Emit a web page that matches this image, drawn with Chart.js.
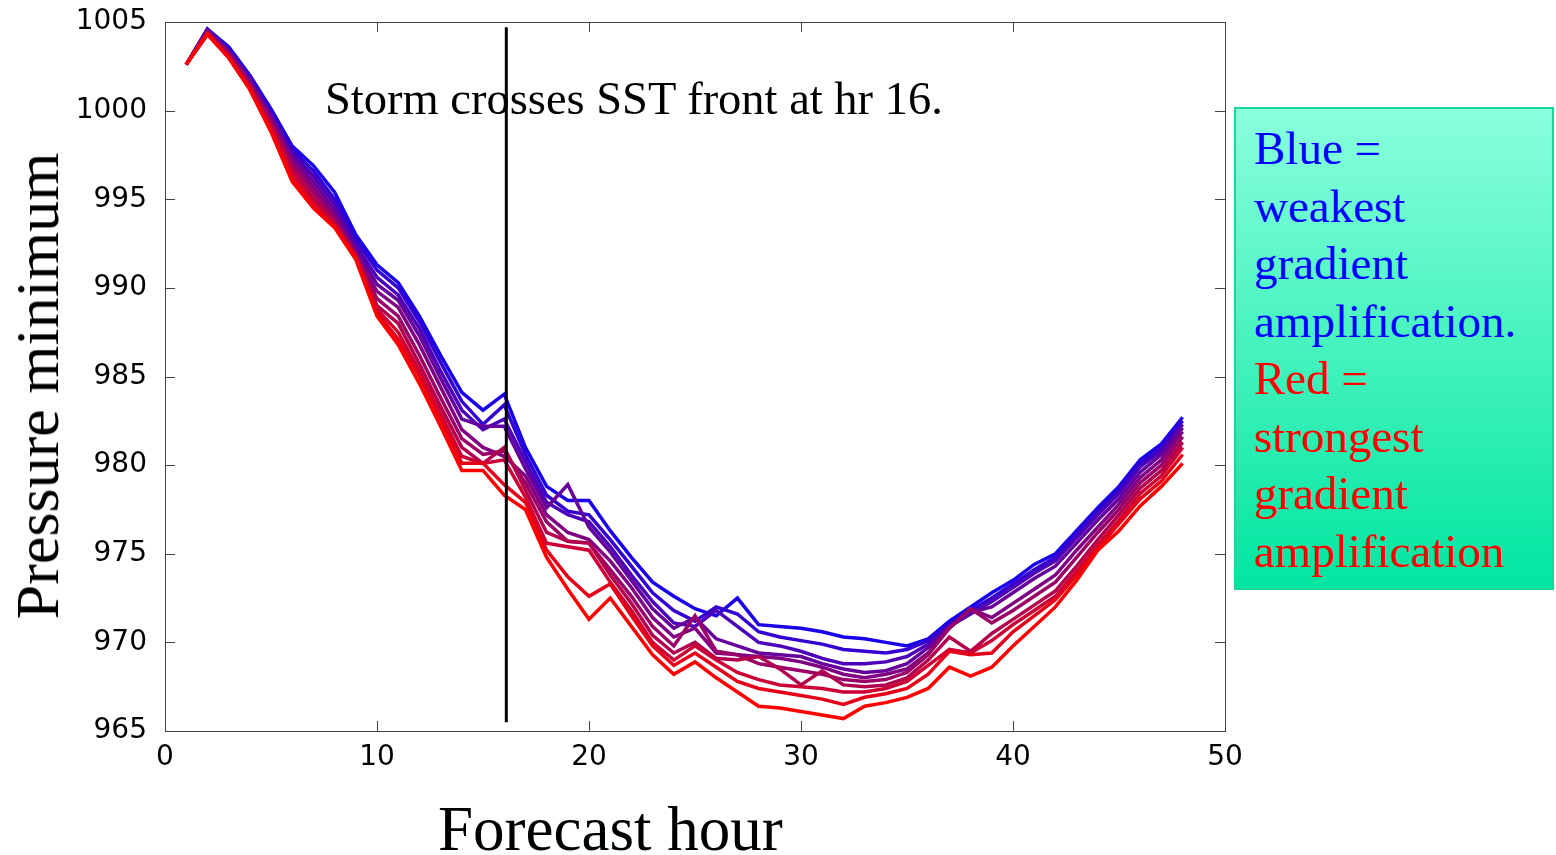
<!DOCTYPE html>
<html>
<head>
<meta charset="utf-8">
<script src="https://cdn.jsdelivr.net/npm/chart.js@4.4.0/dist/chart.umd.min.js"></script>
<style>
  body { margin: 0; background: #fff; }
  #wrap { position: relative; width: 1556px; height: 855px; overflow: hidden; }
  #chart { position: absolute; left: 0; top: 0; }
  .lbl { position: absolute; font-family: "Liberation Serif", "Times New Roman", serif; color: #000; white-space: nowrap; line-height: 1; }
  #ytitle { font-size: 62px; left: 37px; top: 386px; transform: translate(-50%, -50%) rotate(-90deg); }
  #xtitle { font-size: 63px; left: 438px; top: 798px; }
  #note { font-size: 46.5px; left: 325px; top: 76px; }
  #legendBox {
    position: absolute; left: 1234px; top: 107px; width: 320px; height: 483px;
    border: 2px solid #19d69c;
    background: linear-gradient(#8affdc, #00e6a0);
    font-family: "Liberation Serif", "Times New Roman", serif; font-size: 47px; line-height: 57.5px;
    padding: 11px 0 0 18px; box-sizing: border-box; white-space: nowrap;
  }
  .blue { color: #0000ff; }
  .red { color: #ff0000; }
</style>
</head>
<body>
<div id="wrap">
  <canvas id="chart" width="1556" height="855"></canvas>
  <div class="lbl" id="ytitle">Pressure minimum</div>
  <div class="lbl" id="xtitle">Forecast hour</div>
  <div class="lbl" id="note">Storm crosses SST front at hr 16.</div>
  <div id="legendBox">
    <div class="blue">Blue =</div>
    <div class="blue">weakest</div>
    <div class="blue">gradient</div>
    <div class="blue">amplification.</div>
    <div class="red">Red =</div>
    <div class="red">strongest</div>
    <div class="red">gradient</div>
    <div class="red">amplification</div>
  </div>
</div>
<script>
// forecast hours
const hours = [1,2,3,4,5,6,7,8,9,10,11,12,13,14,15,16,17,18,19,20,21,22,23,24,25,26,27,28,29,30,31,32,33,34,35,36,37,38,39,40,41,42,43,44,45,46,47,48];

// minimum pressure, weakest (blue) -> strongest (red) gradient amplification
const run0 = [1002.6,1004.6,1003.6,1002.0,1000.1,998.0,996.9,995.4,993.0,991.3,990.3,988.4,986.2,984.1,983.1,984.0,981.0,978.8,978.0,978.0,976.3,974.8,973.4,972.6,971.9,971.5,972.5,971.0,970.9,970.8,970.6,970.3,970.2,970.0,969.8,970.2,971.2,972.0,972.8,973.5,974.4,975.0,976.3,977.6,978.8,980.3,981.2,982.7];
const run1 = [1002.6,1004.6,1003.5,1001.9,999.9,997.8,996.6,995.0,992.7,991.0,990.0,988.1,985.8,983.6,982.3,983.4,980.6,978.3,977.4,977.2,975.8,974.3,972.8,971.8,971.2,972.0,971.6,970.6,970.3,970.1,969.9,969.6,969.5,969.4,969.6,970.1,971.0,971.8,972.5,973.3,974.1,974.8,976.1,977.4,978.6,980.1,981.0,982.5];
const run2 = [1002.6,1004.5,1003.4,1001.8,999.8,997.6,996.3,994.7,992.4,990.6,989.6,987.7,985.3,983.1,982.0,982.6,980.2,977.9,977.2,976.8,975.4,973.8,972.3,971.1,970.9,971.8,970.9,970.0,969.8,969.5,969.1,968.8,968.8,968.9,969.2,969.9,970.9,971.6,972.3,973.1,973.9,974.6,975.9,977.2,978.4,979.9,980.8,982.3];
const run3 = [1002.6,1004.5,1003.4,1001.7,999.7,997.4,996.0,994.4,992.2,990.2,989.3,987.3,984.9,982.6,982.2,982.2,979.8,977.6,978.9,976.5,975.1,973.5,971.9,970.8,971.4,970.2,969.8,969.4,969.3,969.2,968.8,968.5,968.3,968.4,968.8,969.7,970.9,971.7,972.0,972.8,973.6,974.3,975.6,976.9,978.1,979.6,980.6,982.1];
const run4 = [1002.6,1004.5,1003.3,1001.6,999.5,997.2,995.7,994.1,991.9,989.8,988.9,986.8,984.4,982.0,981.0,980.5,979.4,977.2,976.2,975.8,974.6,973.1,971.4,970.3,970.8,969.4,969.3,969.2,969.1,968.9,968.6,968.2,968.0,968.2,968.5,969.4,970.8,971.9,971.4,972.2,973.0,973.8,975.2,976.5,977.8,979.3,980.3,981.9];
const run5 = [1002.6,1004.4,1003.2,1001.5,999.4,997.0,995.4,993.9,991.7,989.4,988.4,986.2,983.8,981.5,980.6,980.8,979.0,976.8,975.7,975.6,974.1,972.6,970.9,969.8,971.5,969.5,969.3,968.8,968.6,968.4,968.2,967.9,967.8,967.9,968.3,969.3,970.8,971.9,971.1,971.8,972.6,973.4,974.8,976.2,977.5,979.0,980.0,981.6];
const run6 = [1002.6,1004.4,1003.1,1001.4,999.2,996.7,995.1,993.7,991.9,989.0,988.0,985.7,983.3,981.0,980.1,981.0,978.6,976.2,975.7,975.6,973.8,972.2,970.4,969.4,970.0,969.1,969.0,969.2,968.5,967.6,968.4,967.6,967.5,967.6,968.0,969.0,970.3,969.5,970.5,971.3,972.1,972.9,974.3,975.8,977.2,978.7,979.7,981.3];
const run7 = [1002.6,1004.4,1003.0,1001.3,999.0,996.5,994.9,993.6,991.8,988.8,987.5,985.3,982.9,980.5,980.1,980.3,978.2,975.6,975.4,975.2,973.4,971.8,970.0,969.0,969.8,969.0,968.3,967.9,967.6,967.5,967.4,967.2,967.2,967.4,967.8,968.7,969.6,969.4,970.1,971.0,971.8,972.6,974.0,975.5,976.9,978.4,979.4,981.0];
const run8 = [1002.6,1004.3,1003.0,1001.2,998.9,996.2,994.6,993.5,991.7,988.6,987.1,985.0,982.6,980.1,980.1,978.9,977.9,975.2,973.7,972.6,973.3,971.5,969.8,968.7,969.4,968.6,967.8,967.4,967.2,967.0,966.8,966.5,966.9,967.1,967.4,968.2,969.5,969.3,969.4,970.6,971.5,972.4,973.8,975.3,976.7,978.1,979.1,980.6];
const run9 = [1002.6,1004.3,1003.0,1001.2,998.8,996.0,994.5,993.4,991.6,988.4,986.8,984.6,982.2,979.7,979.7,978.3,977.5,974.8,973.0,971.3,972.5,970.9,969.3,968.2,968.9,968.0,967.2,966.4,966.3,966.1,965.9,965.7,966.4,966.6,966.9,967.4,968.6,968.1,968.6,969.8,970.9,972.0,973.5,975.2,976.3,977.7,978.8,980.1];
const runs = [run0, run1, run2, run3, run4, run5, run6, run7, run8, run9];

// SST front crossing marker
const frontHour = [16.1, 16.1];
const frontPressure = [965.5, 1004.7];

const xTicks = [0, 10, 20, 30, 40, 50];
const yTicks = [965, 970, 975, 980, 985, 990, 995, 1000, 1005];

function runColor(i) {
  const t = i / (runs.length - 1);
  const r = Math.round(25 + 230 * t);
  const b = Math.round(235 * (1 - t));
  return 'rgb(' + r + ',0,' + b + ')';
}

let datasets = runs.map(function (vals, i) {
  return {
    data: hours.map(function (h, k) { return {x: h, y: vals[k]}; }),
    borderColor: runColor(i),
    borderWidth: 3.5,
    pointRadius: 0,
    tension: 0,
    order: runs.length - i
  };
});
datasets.push({
  data: frontHour.map(function (h, k) { return {x: h, y: frontPressure[k]}; }),
  borderColor: '#000',
  borderWidth: 3,
  pointRadius: 0,
  order: -1
});

// matlab-ish box with inward ticks on all four sides
const boxTicks = {
  id: 'boxTicks',
  afterDatasetsDraw(chart) {
    const ctx = chart.ctx, a = chart.chartArea;
    const xs = chart.scales.x, ys = chart.scales.y;
    const len = 10;
    ctx.save();
    ctx.strokeStyle = '#444';
    ctx.lineWidth = 1;
    ctx.strokeRect(a.left + 0.5, a.top + 0.5, a.right - a.left, a.bottom - a.top);
    ctx.beginPath();
    xTicks.forEach(function (v) {
      const px = Math.round(xs.getPixelForValue(v)) + 0.5;
      ctx.moveTo(px, a.bottom); ctx.lineTo(px, a.bottom - len);
      ctx.moveTo(px, a.top); ctx.lineTo(px, a.top + len);
    });
    yTicks.forEach(function (v) {
      const py = Math.round(ys.getPixelForValue(v)) + 0.5;
      ctx.moveTo(a.left, py); ctx.lineTo(a.left + len, py);
      ctx.moveTo(a.right, py); ctx.lineTo(a.right - len, py);
    });
    ctx.stroke();
    ctx.restore();
  }
};

new Chart(document.getElementById('chart').getContext('2d'), {
  type: 'line',
  data: { datasets: datasets },
  plugins: [boxTicks],
  options: {
    responsive: false,
    animation: false,
    layout: { padding: { left: 0, top: 22, right: 331, bottom: 64 } },
    plugins: { legend: { display: false }, tooltip: { enabled: false } },
    scales: {
      x: {
        type: 'linear', min: 0, max: 50,
        afterBuildTicks: function (s) { s.ticks = xTicks.map(function (v) { return {value: v}; }); },
        afterFit: function (s) { s.height = 60; s.paddingLeft = 0; s.paddingRight = 0; },
        grid: { display: false },
        border: { display: false },
        ticks: { color: '#000', padding: 2, maxRotation: 0, font: { family: 'DejaVu Sans', size: 28 },
                 callback: function (v) { return String(v); } }
      },
      y: {
        type: 'linear', min: 965, max: 1005,
        afterBuildTicks: function (s) { s.ticks = yTicks.map(function (v) { return {value: v}; }); },
        afterFit: function (s) { s.width = 165; s.paddingTop = 0; s.paddingBottom = 0; },
        grid: { display: false },
        border: { display: false },
        ticks: { color: '#000', padding: 10, font: { family: 'DejaVu Sans', size: 28 },
                 callback: function (v) { return String(v); } }
      }
    }
  }
});
</script>
</body>
</html>
